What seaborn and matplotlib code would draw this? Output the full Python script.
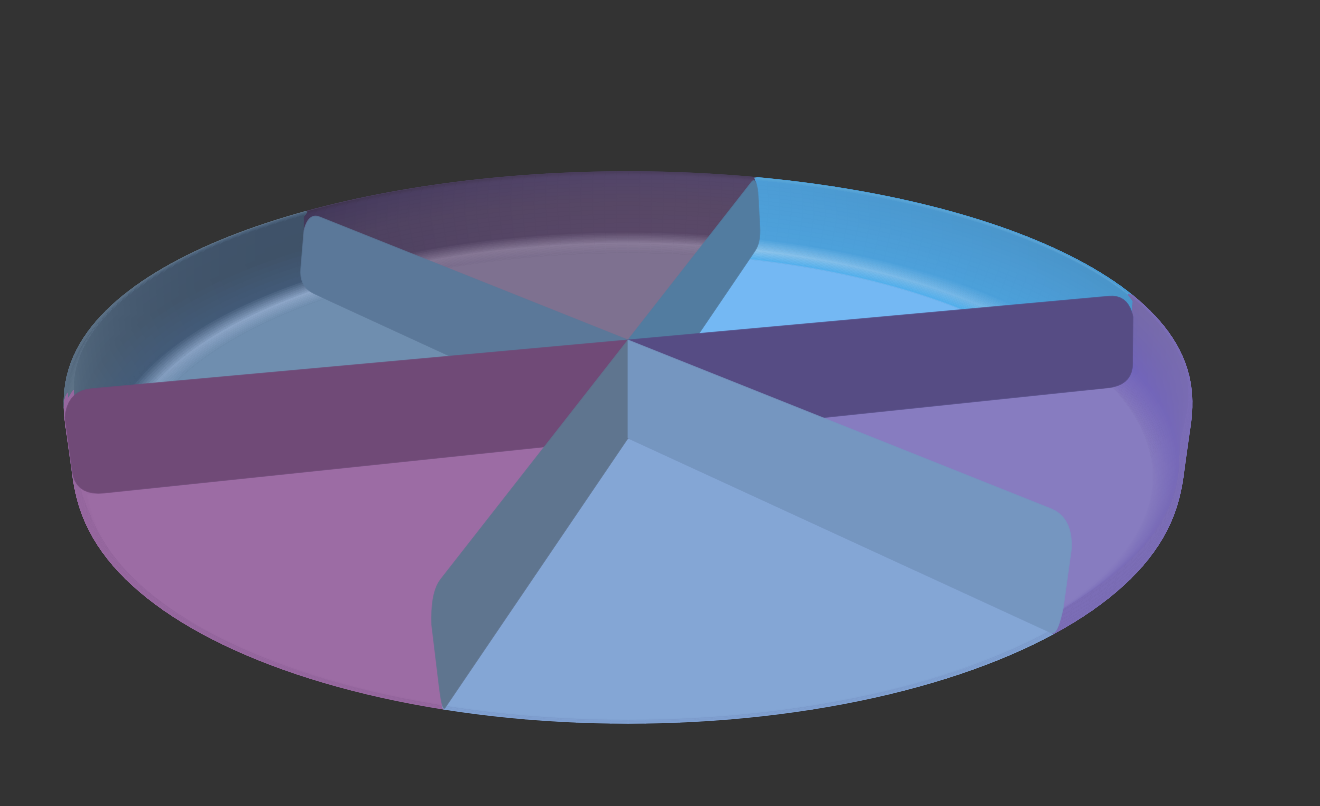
# 3D pie chart, six equal slices in a glass dish
import numpy as np
import matplotlib
matplotlib.use("Agg")
import matplotlib.pyplot as plt
from matplotlib.collections import PolyCollection
import seaborn as sns

# slice shares, counter clockwise from the first wall
slice_values = [1, 1, 1, 1, 1, 1]
start_angle = 13.5

floor_colors = ["#74b8f3", "#7e7190", "#6f8eaf", "#9c6ca4", "#84a6d5", "#877cc0"]
shell_colors = ["#4a9bd4", "#4a3f5c", "#5a6f84", "#96679f", "#7f9fd0", "#7b6db6"]
wall_colors = ["#564c84", "#527ca0", "#5b7899", "#704a77", "#5f758f", "#7596c0"]

# inner band of each slice, rim to floor edge, at both ends of the slice
band_start = [
    ["#5fa6d6", "#4a95ca", "#4c9ad2", "#4ca0da", "#6fb4e6", "#4fb0ee"],
    ["#4c3f5e", "#54466a", "#584866", "#5a4868", "#8a7c9a", "#7e7190"],
    ["#4f6680", "#3f5269", "#3f5268", "#425a78", "#8da6c8", "#6f8eaf"],
    ["#96679f", "#98689f", "#9a6aa2", "#9a6aa2", "#9c6ca4", "#9c6ca4"],
    ["#7f9fd0", "#7f9fd0", "#80a2d2", "#80a2d2", "#82a4d4", "#84a6d5"],
    ["#7a6cb4", "#7a6cb8", "#7a6cb8", "#7a6cb8", "#8074bc", "#877cc0"],
]
band_end = [
    ["#5aa8d8", "#4d9dd6", "#4d9fd8", "#4ea2dc", "#8cc4ec", "#4fb0f0"],
    ["#3f3450", "#43385a", "#4a3f5e", "#4a3f5e", "#7f708e", "#75688a"],
    ["#5e7387", "#5c7286", "#566c82", "#47607c", "#6b88aa", "#6f8eb2"],
    ["#96679f", "#98689f", "#9a6aa2", "#9a6aa2", "#9c6ca4", "#9c6ca4"],
    ["#7f9fd0", "#7f9fd0", "#80a2d2", "#80a2d2", "#82a4d4", "#84a6d5"],
    ["#7a6dac", "#766aa8", "#7266b0", "#7164ba", "#7a6cbc", "#8477bd"],
]
floor_edge = [0.90, 0.90, 0.90, 0.98, 0.98, 0.95]
wall_reach = [0.99, 1.0, 0.985, 1.0, 1.0, 0.992]
wall_reach_low = [0.99, 1.0, 0.985, 1.0, 1.0, 1.0]
wall_foot = [0.05, 0.05, 0.05, 0.05, 0.012, 0.012]

bg = "#333333"
sns.set_theme(style="dark", rc={"figure.facecolor": bg, "axes.facecolor": bg})


def project(theta, r, z):
    # perspective of a disc at height z, angles in degrees
    x = r * np.cos(np.radians(theta))
    y = r * np.sin(np.radians(theta))
    cy = 438 - 98 * z
    b = 238 - 29 * z
    a = 545 + 7 * z
    p = 0.174 + 0.051 * z
    s = 1 / (1 + p * y)
    return 628 + a * x * s, cy - b * y * s


def curve(p0, ctrl, p1, n=10):
    t = np.linspace(0, 1, n)[:, None]
    p0, ctrl, p1 = np.array(p0), np.array(ctrl), np.array(p1)
    return (1 - t) ** 2 * p0 + 2 * t * (1 - t) * ctrl + t ** 2 * p1


def band(ax, t0, t1, rz, pal_a, pal_b):
    # mesh of small quads, colour runs along the profile and round the slice
    thetas = np.linspace(t0, t1, 41)
    quads, colors = [], []
    for i in range(len(thetas) - 1):
        f = ((i + 0.5) / (len(thetas) - 1)) ** 2
        for j in range(len(rz) - 1):
            q = [project(thetas[i], *rz[j]), project(thetas[i + 1], *rz[j]),
                 project(thetas[i + 1], *rz[j + 1]), project(thetas[i], *rz[j + 1])]
            quads.append(q)
            colors.append(pal_a[j] * (1 - f) + pal_b[j] * f)
    ax.add_collection(PolyCollection(quads, facecolors=colors, edgecolors=colors, linewidths=0.6))


def knot_palette(cols, n):
    # one colour per knot, blended evenly between the knots
    pieces = [np.array(sns.blend_palette(cols[k:k + 2], n))[:, :3] for k in range(len(cols) - 1)]
    return np.vstack(pieces)


def inner_profile(edge, n):
    # rim, band, fillet, floor edge
    knots_r = [0.98, 0.99, 0.985, min(edge + 0.045, 0.99), min(edge + 0.02, 0.985), edge]
    knots_z = [1.0, 0.93, 0.55, 0.20, 0.09, 0.0]
    pieces = [np.column_stack([np.linspace(knots_r[k], knots_r[k + 1], n),
                               np.linspace(knots_z[k], knots_z[k + 1], n)]) for k in range(5)]
    return np.vstack(pieces)


fig, ax = plt.subplots(figsize=(13.2, 8.06), dpi=100)
fig.subplots_adjust(0, 0, 1, 1)
ax.set_xlim(0, 1320)
ax.set_ylim(806, 0)
ax.axis("off")

edges = start_angle + np.cumsum([0] + slice_values) * 360 / sum(slice_values)

# outer shell, seen at the sides and the front
shell_rz = np.vstack([curve((0.99, 0), (1, 0), (1, 0.22)), curve((1, 0.75), (1, 1), (0.98, 1))])
for i in range(6):
    pal = np.array(sns.blend_palette([shell_colors[i]] * 2, len(shell_rz)))[:, :3]
    band(ax, edges[i], edges[i + 1], shell_rz, pal, pal)

# inside of the dish, then the floor on top
for i in [1, 0, 2, 5, 3, 4]:
    rz = inner_profile(floor_edge[i], 8)
    band(ax, edges[i], edges[i + 1], rz, knot_palette(band_start[i], 8), knot_palette(band_end[i], 8))
for i in [1, 0, 2, 5, 3, 4]:
    th = np.linspace(edges[i], edges[i + 1], 61)
    xs, ys = project(th, floor_edge[i], 0)
    ax.fill(np.r_[628, xs], np.r_[438, ys], color=floor_colors[i], lw=0.5)

# walls between slices, back to front
for i in [1, 2, 0, 3, 4, 5]:
    reach = wall_reach[i]
    low = wall_reach_low[i]
    wall_rz = np.vstack([
        [(0, 1)],
        curve((reach - 0.05, 1), (reach - 0.01, 1), (reach, 0.75)),
        curve((low, 0.24), (low, 0), (low - wall_foot[i], 0)),
        [(0, 0)],
    ])
    xs, ys = project(edges[i], wall_rz[:, 0], wall_rz[:, 1])
    ax.fill(xs, ys, color=wall_colors[i], lw=0.5)

fig.savefig("out.png", dpi=100, facecolor=bg)
